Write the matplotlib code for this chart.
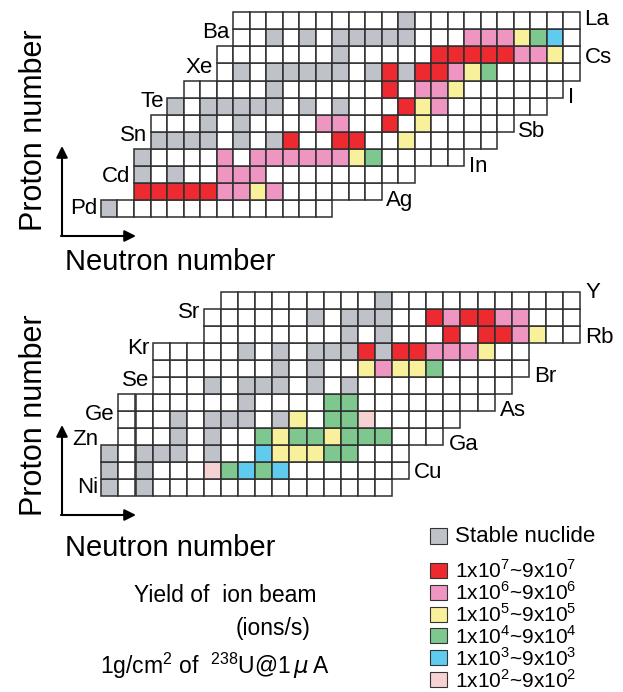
import matplotlib.pyplot as plt
from matplotlib.patches import Rectangle

plt.rcParams['font.family'] = ['Liberation Sans', 'DejaVu Sans']

# yield class per nuclide, one string per proton row (bottom row first), one char per neutron column
# ' ' no cell, '.' measured/unstable, 's' stable, '7'..'2' = yield 1x10^n ~ 9x10^n ions/s
top_elements = ['Pd', 'Ag', 'Cd', 'In', 'Sn', 'Sb', 'Te', 'I', 'Xe', 'Cs', 'Ba', 'La']
top_rows = [
    "s.............               ",
    "  777776656......            ",
    "  s.s..666.........          ",
    "  s....6.66666654.....       ",
    "   ssss.s.s7..77..5.....     ",
    "   ...s.s....66..7.5.....    ",
    "    s.sssss.s.s...756......  ",
    "     .....s......7.665...... ",
    "       .s.sssss.s7s77654.....",
    "       .......s.....77777665.",
    "        ..s.s.sssss...666543.",
    "        ..........s..........",
]
top_label_dy = [0.0, -0.5, -0.1, -0.5, 0.3, -0.5, 0.25, -0.5, 0.25, -0.15, 0.28, 0.05]

bottom_elements = ['Ni', 'Cu', 'Zn', 'Ga', 'Ge', 'As', 'Se', 'Br', 'Kr', 'Rb', 'Sr', 'Y']
bottom_rows = [
    "s.s..............           ",
    "s.s...24343.......          ",
    "s.sss.s..355544...          ",
    " ...s.s..45445444...        ",
    " ...s.sss.s5.442.....       ",
    " .......s....44........     ",
    "   ...s.sss.s.s.........    ",
    "   .......s.s..56554.....   ",
    "   .....s.s.sss7s776665..  ",
    "      ........s.s...7.7765..",
    "      ......s.sss..767766...",
    "       .........s...........",
]
bottom_label_dy = [0.0, -0.1, 0.8, -0.5, 0.27, -0.5, 0.27, -0.5, 0.2, -0.2, 0.32, 0.45]

class_colors = {
    '.': 'white', 's': '#c0c2ca',
    '7': '#ec2a2f', '6': '#ee95c2', '5': '#f8f09b',
    '4': '#7ec78f', '3': '#5ecbef', '2': '#f7d2d2',
}
legend_classes = ['7', '6', '5', '4', '3', '2']

W, H = 623, 692
fig = plt.figure(figsize=(W / 100, H / 100), dpi=100)


def px_axes(x0, y0, x1, y1):
    return fig.add_axes([x0 / W, 1 - y1 / H, (x1 - x0) / W, (y1 - y0) / H])


def draw_chart(ax, rows, elements, label_dy, ncols):
    for r, line in enumerate(rows):
        line = line.ljust(ncols)
        cols = [c for c, ch in enumerate(line) if ch != ' ']
        for c in cols:
            ax.add_patch(Rectangle((c, r), 1, 1, facecolor=class_colors[line[c]],
                                   edgecolor='#2e2e2e', lw=1.1, clip_on=False))
        y = r + 0.5 + label_dy[r]
        if r % 2 == 0:
            ax.text(cols[0] - 0.2, y, elements[r], ha='right', va='center', fontsize=16)
        else:
            ax.text(cols[-1] + 1.3, y, elements[r], ha='left', va='center', fontsize=16)
    ax.set_xlim(0, ncols)
    ax.set_ylim(0, len(rows))
    ax.axis('off')


ax_top = px_axes(101, 12.1, 579.5, 217.3)
draw_chart(ax_top, top_rows, top_elements, top_label_dy, 29)
ax_bot = px_axes(101.3, 292, 580.1, 496)
draw_chart(ax_bot, bottom_rows, bottom_elements, bottom_label_dy, 28)

# overlay in pixel units for axis arrows, legend and notes
ov = fig.add_axes([0, 0, 1, 1])
ov.set_xlim(0, W)
ov.set_ylim(H, 0)
ov.axis('off')

for y0, yc, ylab in [(236, 130, 262), (515, 415, 548)]:
    ov.annotate('', xy=(62, y0 - 90), xytext=(62, y0),
                arrowprops=dict(arrowstyle='-|>', lw=1.5, color='k', mutation_scale=17, shrinkA=0, shrinkB=0))
    ov.annotate('', xy=(136, y0), xytext=(61, y0),
                arrowprops=dict(arrowstyle='-|>', lw=1.5, color='k', mutation_scale=17, shrinkA=0, shrinkB=0))
    ov.text(34, yc, 'Proton number', rotation=90, ha='center', va='center', fontsize=22)
    ov.text(170, ylab, 'Neutron number', ha='center', va='center', fontsize=21)

# legend
ov.add_patch(Rectangle((430, 528), 17, 16, facecolor=class_colors['s'], edgecolor='#333333', lw=0.8))
ov.text(455, 536, 'Stable nuclide', ha='left', va='center', fontsize=16)
for i, cls in enumerate(legend_classes):
    y = 563 + i * 21.8
    ov.add_patch(Rectangle((430, y), 17, 15, facecolor=class_colors[cls], edgecolor='#333333', lw=0.8))
    ov.text(455, y + 8, r'1x10$^{\mathregular{%s}}$~9x10$^{\mathregular{%s}}$' % (cls, cls),
            ha='left', va='center', fontsize=15)

ov.text(225, 596, 'Yield of  ion beam', ha='center', va='center', fontsize=16.5)
ov.text(273, 628, '(ions/s)', ha='center', va='center', fontsize=16.5)
ov.text(215, 666, r'1g/cm$^{\mathregular{2}}$ of  $^{\mathregular{238}}$U@1$\,\mu\,$A',
        ha='center', va='center', fontsize=16.5)

fig.savefig('out.png', dpi=100)
